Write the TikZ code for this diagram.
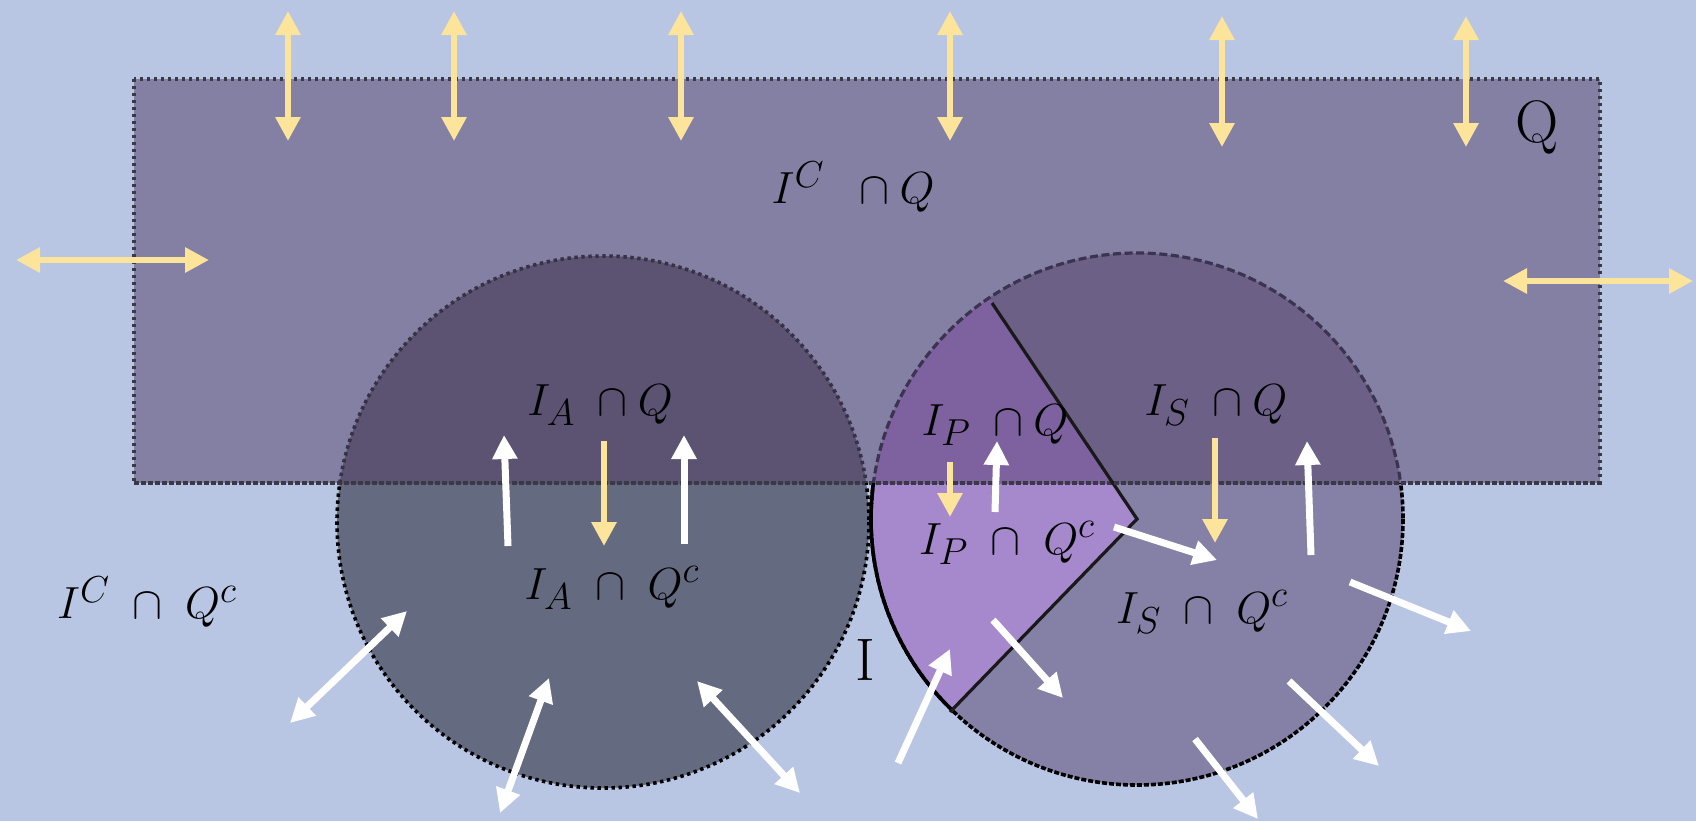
\documentclass[tikz,border=0pt]{standalone}
\usepackage{graphicx}
\usetikzlibrary{arrows.meta}
\definecolor{bgc}{HTML}{B8C6E4}
\definecolor{qc}{HTML}{8480A4}
\definecolor{laup}{HTML}{5C5272}
\definecolor{lalo}{HTML}{646A80}
\definecolor{rsup}{HTML}{6C6086}
\definecolor{rslo}{HTML}{8480A6}
\definecolor{wup}{HTML}{7E62A0}
\definecolor{wlo}{HTML}{A688CC}
\definecolor{arrY}{HTML}{FCE49A}
\definecolor{brd}{HTML}{3A3A46}
\definecolor{rbrd}{HTML}{3B3450}
\newcommand{\mlabtxt}[1]{\scalebox{0.905}{\Huge$#1$}}
\begin{document}
\begin{tikzpicture}[x=0.5pt,y=-0.5pt,
  yarr/.style={draw=arrY, line width=3.3pt, -{Triangle[length=12pt,width=12pt]}},
  ydbl/.style={draw=arrY, line width=3.3pt, {Triangle[length=12pt,width=12pt]}-{Triangle[length=12pt,width=12pt]}},
  warr/.style={draw=white, line width=3.5pt, -{Triangle[length=12pt,width=12pt]}},
  wdbl/.style={draw=white, line width=3.5pt, {Triangle[length=12pt,width=12pt]}-{Triangle[length=12pt,width=12pt]}},
  dotb/.style={line width=1.8pt, dash pattern=on 1.7pt off 1.8pt},
  mlab/.style={inner sep=0pt},
  rlab/.style={inner sep=0pt, font=\fontsize{30}{36}\selectfont}]
\useasboundingbox (0,0) rectangle (1696,821);
\fill[bgc] (0,0) rectangle (1696,821);
% Q rectangle
\fill[qc] (134,79) rectangle (1600,483);
% left circle
\fill[lalo] (603,522) circle[radius=266];
\begin{scope}
  \clip (134,79) rectangle (1600,483);
  \fill[laup] (603,522) circle[radius=266];
\end{scope}
% right circle
\fill[rslo] (1137,519) circle[radius=266];
\begin{scope}
  \clip (134,79) rectangle (1600,483);
  \fill[rsup] (1137,519) circle[radius=266];
\end{scope}
% wedge
\begin{scope}
  \clip (1137,519) circle[radius=266];
  \fill[wlo] (1137,519) -- (856,809) -- (780,519) -- (919,195) -- cycle;
  \clip (134,79) rectangle (1600,483);
  \fill[wup] (1137,519) -- (856,809) -- (780,519) -- (919,195) -- cycle;
\end{scope}
% borders
\draw[brd, dotb] (134,79) rectangle (1600,483);
\begin{scope}
  \clip (0,0) rectangle (1696,483);
  \draw[laup!60!black, dotb] (603,522) circle[radius=266];
\end{scope}
\begin{scope}
  \clip (0,483) rectangle (1696,821);
  \draw[black, dotb] (603,522) circle[radius=266];
\end{scope}
\begin{scope}
  \clip (0,0) rectangle (1696,483);
  \draw[rbrd, line width=1.6pt, dash pattern=on 4pt off 1.8pt] (1137,519) circle[radius=266];
\end{scope}
\begin{scope}
  \clip (0,483) rectangle (1696,821);
  \draw[black, line width=1.8pt, dash pattern=on 2.5pt off 1pt] (1137,519) circle[radius=266];
  \clip (1137,519) -- (856,809) -- (780,519) -- (919,195) -- cycle;
  \draw[black, line width=1.8pt] (1137,519) circle[radius=266];
\end{scope}
\coordinate (C2) at (1137,519);
\coordinate (wa) at (992,303);
\coordinate (wb) at (950,712);
\draw[black!90, line width=1.6pt, line join=miter] (wa) -- (C2) -- (wb);
% redraw Q bottom line over circles
\draw[brd, dotb] (134,483) -- (1600,483);

% top yellow arrows
\foreach \i/\x/\ya/\yb in {1/288/11/141,2/454/11/141,3/681/11/141,4/950/11/141,5/1222/16/147,6/1466/16/147}{
  \coordinate (ta\i) at (\x,\ya);
  \coordinate (tb\i) at (\x,\yb);
  \draw[ydbl] (ta\i) -- (tb\i);
}
\coordinate (hl1) at (16,260);
\coordinate (hl2) at (209,260);
\draw[ydbl] (hl1) -- (hl2);
\coordinate (hr1) at (1503,281);
\coordinate (hr2) at (1693,281);
\draw[ydbl] (hr1) -- (hr2);
% yellow down arrows
\coordinate (ya1) at (604,441); \coordinate (yb1) at (604,546);
\draw[yarr] (ya1) -- (yb1);
\coordinate (ya2) at (950,462); \coordinate (yb2) at (950,517);
\draw[yarr] (ya2) -- (yb2);
\coordinate (ya3) at (1215,438); \coordinate (yb3) at (1215,543);
\draw[yarr] (ya3) -- (yb3);

% white arrows, left circle
\coordinate (w1a) at (508,546); \coordinate (w1b) at (504,435);
\draw[warr] (w1a) -- (w1b);
\coordinate (w2a) at (684,544); \coordinate (w2b) at (684,435);
\draw[warr] (w2a) -- (w2b);
\coordinate (w3a) at (290,723); \coordinate (w3b) at (407,611);
\draw[wdbl] (w3a) -- (w3b);
\coordinate (w4a) at (500,813); \coordinate (w4b) at (549,678);
\draw[wdbl] (w4a) -- (w4b);
\coordinate (w5a) at (697,681); \coordinate (w5b) at (800,793);
\draw[wdbl] (w5a) -- (w5b);
% white arrows, right circle
\coordinate (w6a) at (995,512); \coordinate (w6b) at (997,441);
\draw[warr] (w6a) -- (w6b);
\coordinate (w7a) at (1114,527); \coordinate (w7b) at (1217,560);
\draw[warr] (w7a) -- (w7b);
\coordinate (w8a) at (1311,555); \coordinate (w8b) at (1307,441);
\draw[warr] (w8a) -- (w8b);
\coordinate (w9a) at (1350,582); \coordinate (w9b) at (1471,631);
\draw[warr] (w9a) -- (w9b);
\coordinate (w10a) at (993,620); \coordinate (w10b) at (1063,698);
\draw[warr] (w10a) -- (w10b);
\coordinate (w11a) at (898,763); \coordinate (w11b) at (950,649);
\draw[warr] (w11a) -- (w11b);
\coordinate (w12a) at (1289,681); \coordinate (w12b) at (1379,766);
\draw[warr] (w12a) -- (w12b);
\coordinate (w13a) at (1195,739); \coordinate (w13b) at (1258,819);
\draw[warr] (w13a) -- (w13b);

% labels
\node[mlab] (ICQ) at (853,187) {\mlabtxt{I^C\;\;\cap Q}};
\node[mlab] (IAQ) at (600,405) {\mlabtxt{I_A\;\cap Q}};
\node[mlab] (IAQc) at (612,588) {\mlabtxt{I_A\;\cap\;Q^c}};
\node[mlab] (ICQc) at (147,602) {\mlabtxt{I^C\;\cap\;Q^c}};
\node[mlab] (IPQ) at (995,425) {\mlabtxt{I_P\;\cap Q}};
\node[mlab] (IPQc) at (1007,543) {\mlabtxt{I_P\;\cap\;Q^c}};
\node[mlab] (ISQ) at (1216,405) {\mlabtxt{I_S\;\cap Q}};
\node[mlab] (ISQc) at (1202,612) {\mlabtxt{I_S\;\cap\;Q^c}};
\node[rlab] (Qlab) at (1537,127) {Q};
\node[rlab] (Ilab) at (865,660) {I};
\end{tikzpicture}
\end{document}
